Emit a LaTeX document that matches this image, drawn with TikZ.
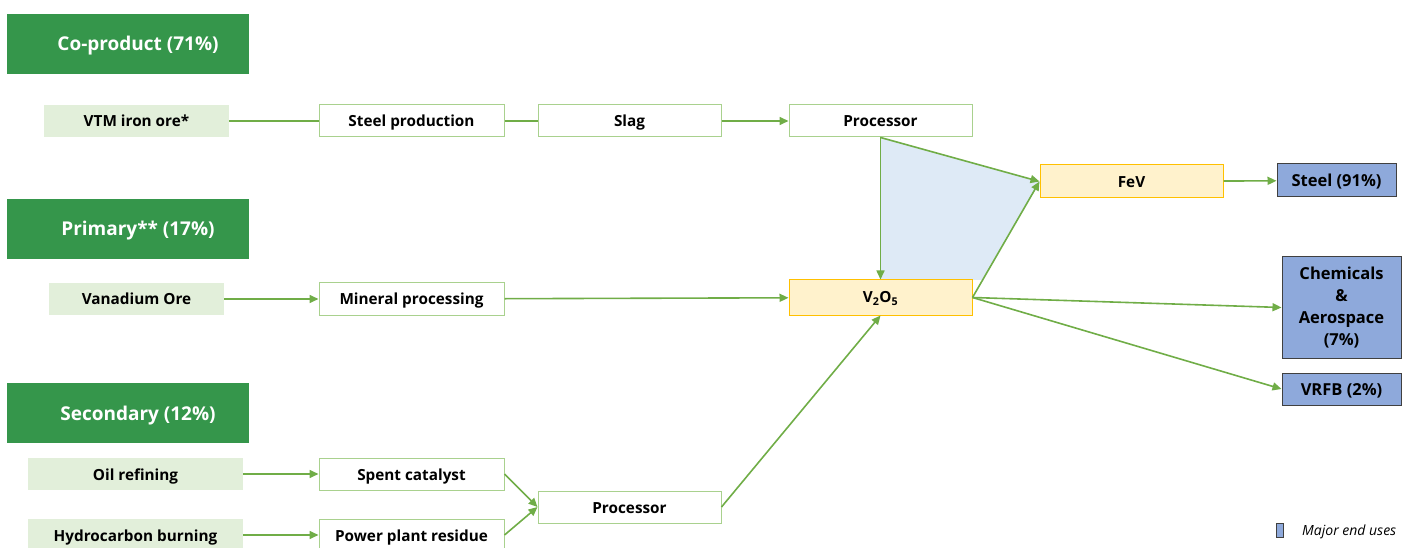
\documentclass[tikz,border=0pt]{standalone}
\usepackage{fontspec}
\setmainfont{Open Sans}
\usetikzlibrary{arrows.meta}
\definecolor{hdrgreen}{HTML}{35964B}
\definecolor{srcfill}{HTML}{E2EFDA}
\definecolor{boxline}{HTML}{A9D18E}
\definecolor{flow}{HTML}{70AD47}
\definecolor{yfill}{HTML}{FFF2CC}
\definecolor{yline}{HTML}{FFC000}
\definecolor{bfill}{HTML}{8EA9DB}
\definecolor{bline}{HTML}{404040}
\definecolor{regionblue}{HTML}{DEEAF6}
\tikzset{
  oneline/.style={text height=12pt, text depth=0pt},
  hdr/.style={fill=hdrgreen, draw=none, text=white, font=\fontsize{19}{22}\selectfont\bfseries, minimum width=242pt, minimum height=60pt, inner sep=0pt, text height=14pt, text depth=0pt},
  src/.style={fill=srcfill, draw=none, font=\fontsize{15.3}{18}\selectfont\bfseries, minimum height=32pt, inner sep=0pt, oneline},
  stepbox/.style={fill=white, draw=boxline, line width=1pt, font=\fontsize{15.3}{18}\selectfont\bfseries, minimum width=185pt, minimum height=32pt, inner sep=0pt, oneline},
  ybox/.style={fill=yfill, draw=yline, line width=1pt, font=\fontsize{15.3}{18}\selectfont\bfseries, minimum width=183pt, minimum height=33pt, inner sep=0pt},
  endbox/.style={fill=bfill, draw=bline, line width=1pt, font=\fontsize{16.5}{22}\selectfont\bfseries, minimum width=119pt, inner sep=0pt, align=center},
  flowline/.style={draw=flow, line width=1.6pt},
  arr/.style={flowline, -{Triangle[length=9pt,width=8pt]}},
}
\begin{document}
\begin{tikzpicture}[x=1pt,y=-1pt]
\useasboundingbox (0,0) rectangle (1409,548);
\clip (0,0) rectangle (1409,548);
% shaded region
\fill[regionblue] (881,137) -- (1040,182) -- (982,280) -- (881,280) -- cycle;
% headers
\node[hdr] (hco) at (128,44) {\hspace*{20pt}Co-product (71\%)};
\node[hdr] (hpr) at (128,229) {\hspace*{20pt}Primary** (17\%)};
\node[hdr] (hse) at (128,413) {\hspace*{20pt}Secondary (12\%)};
% sources
\node[src, minimum width=185pt] (vtm) at (136.5,121) {VTM iron ore*};
\node[src, minimum width=175pt] (vore) at (136.5,299) {Vanadium Ore};
\node[src, minimum width=215pt] (oil) at (135.5,474) {Oil refining};
\node[src, minimum width=215pt] (hyd) at (135.5,535) {Hydrocarbon burning};
% steps
\node[stepbox] (steel) at (411.5,121) {Steel production};
\node[stepbox, minimum width=183pt] (slag) at (629.5,121) {Slag};
\node[stepbox, minimum width=183pt] (proc) at (880.5,121) {Processor};
\node[stepbox] (mineral) at (411.5,299) {Mineral processing};
\node[stepbox] (spent) at (411.5,474) {Spent catalyst};
\node[stepbox] (power) at (411.5,535) {Power plant residue};
\node[stepbox, minimum width=183pt] (proc2) at (629.5,507) {Processor};
% intermediates
\node[ybox, minimum height=35pt, text height=12pt, text depth=2pt] (v2o5) at (880.5,297.5) {V\textsubscript{2}O\textsubscript{5}};
\node[ybox, oneline] (fev) at (1131.5,181.5) {FeV};
% end uses
\node[endbox, minimum height=33pt, oneline] (steelend) at (1336.5,180.5) {Steel (91\%)};
\node[endbox, minimum height=101pt] (chem) at (1341.5,307.5) {Chemicals\\\&\\Aerospace\\(7\%)};
\node[endbox, minimum height=32pt, oneline] (vrfb) at (1341.5,389) {VRFB (2\%)};
% connectors
\draw[flowline] (vtm) -- (steel);
\draw[flowline] (steel) -- (slag);
\draw[arr] (slag) -- (proc);
\coordinate (procb) at (proc.south);
\draw[arr] (procb) -- (v2o5.north);
\draw[arr] (procb) -- (fev.west);
\draw[arr] (v2o5.east) -- (fev.west);
\draw[arr] (fev) -- (steelend);
\draw[arr] (v2o5.east) -- (chem.west);
\draw[arr] (v2o5.east) -- (vrfb.west);
\draw[arr] (vore) -- (mineral);
\draw[arr] (mineral) -- (v2o5);
\draw[arr] (oil) -- (spent);
\draw[arr] (hyd) -- (power);
\draw[arr] (spent.east) -- (proc2.west);
\draw[arr] (power.east) -- (proc2.west);
\draw[arr] (proc2.east) -- (v2o5.south);
% legend
\node[fill=bfill, draw=bline, line width=0.8pt, minimum width=7pt, minimum height=14pt, inner sep=0pt] (leg) at (1279.5,530) {};
\node[anchor=west, font=\fontsize{14}{16}\selectfont\itshape, inner sep=0pt] (legt) at (1302,532) {Major end uses};
\end{tikzpicture}
\end{document}
